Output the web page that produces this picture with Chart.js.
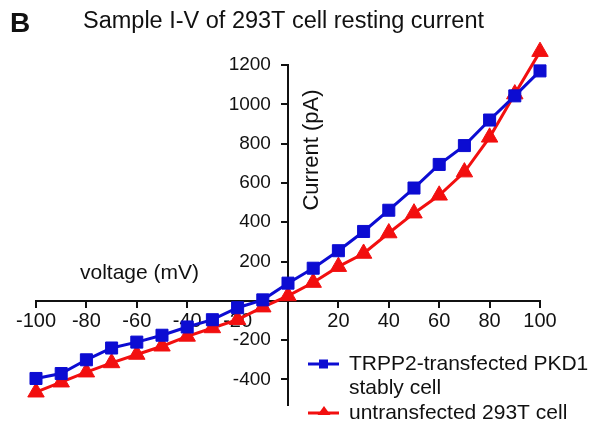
<!DOCTYPE html>
<html>
<head>
<meta charset="utf-8">
<title>Sample I-V of 293T cell resting current</title>
<script src="https://cdn.jsdelivr.net/npm/chart.js@4.4.1/dist/chart.umd.min.js"></script>
<style>
  html, body { margin: 0; padding: 0; background: #fff; }
  #wrap { width: 591px; height: 424px; position: relative; }
</style>
</head>
<body>
<div id="wrap"><canvas id="ivChart"></canvas></div>
<script>
// holding voltage steps (mV) and measured currents (pA)
const voltage = [-100, -90, -80, -70, -60, -50, -40, -30, -20, -10, 0, 10, 20, 30, 40, 50, 60, 70, 80, 90, 100];
const currentTRPP2 = [-395, -370, -300, -240, -210, -175, -133, -96, -35, 5, 90, 166, 255, 353, 461, 574, 694, 790, 920, 1043, 1170];
const current293T = [-465, -414, -363, -316, -273, -231, -181, -138, -96, -32, 25, 93, 174, 241, 345, 446, 537, 655, 832, 1052, 1268];

const xTicks = [-100, -80, -60, -40, -20, 0, 20, 40, 60, 80, 100];
const yTicks = [-400, -200, 0, 200, 400, 600, 800, 1000, 1200];
const seriesNames = [['TRPP2-transfected PKD1', 'stably cell'], ['untransfected 293T cell']];

const FONT = '"Liberation Sans", Arial, Helvetica, sans-serif';
const INK = '#111';
const BLUE = '#0c0cd2';
const RED = '#f20f0f';

function points(ys) {
    return voltage.map((v, i) => ({ x: v, y: ys[i] }));
}

function hideZero(value) {
    return value === 0 ? '' : value;
}

// centred y axis puts labels flush on the line, so pad them with an en space + thin spaces
function yLabel(value) {
    return value === 0 ? '' : value + '\u2002\u2009\u2009';
}

// title, axis names and legend sit around the crossed axes, so draw them by hand
const annotations = {
    id: 'annotations',
    afterDraw(chart) {
        const ctx = chart.ctx;
        ctx.save();
        ctx.fillStyle = INK;
        ctx.textBaseline = 'alphabetic';

        ctx.font = 'bold 28px ' + FONT;
        ctx.fillText('B', 10, 32);
        ctx.font = '23.5px ' + FONT;
        ctx.fillText('Sample I-V of 293T cell resting current', 83, 28);

        ctx.font = '21px ' + FONT;
        ctx.fillText('voltage (mV)', 80, 279);
        ctx.save();
        ctx.translate(318, 150);
        ctx.rotate(-Math.PI / 2);
        ctx.textAlign = 'center';
        ctx.font = '22px ' + FONT;
        ctx.fillText('Current (pA)', 0, 0);
        ctx.restore();

        // legend
        const rows = [
            { y: 364, color: BLUE, marker: 'rect', lines: seriesNames[0] },
            { y: 413, color: RED, marker: 'triangle', lines: seriesNames[1] }
        ];
        rows.forEach(row => {
            ctx.strokeStyle = row.color;
            ctx.fillStyle = row.color;
            ctx.lineWidth = 3;
            ctx.beginPath();
            ctx.moveTo(308, row.y);
            ctx.lineTo(339, row.y);
            ctx.stroke();
            if (row.marker === 'rect') {
                ctx.fillRect(319, row.y - 4.5, 9, 9);
            } else {
                ctx.beginPath();
                ctx.moveTo(324, row.y - 7);
                ctx.lineTo(330.5, row.y + 2);
                ctx.lineTo(317.5, row.y + 2);
                ctx.closePath();
                ctx.fill();
            }
            ctx.fillStyle = INK;
            ctx.font = '21px ' + FONT;
            row.lines.forEach((t, i) => ctx.fillText(t, 349, row.y + 6 + i * 24));
        });
        ctx.restore();
    }
};

const ctx = document.getElementById('ivChart').getContext('2d');
const chart = new Chart(ctx, {
    type: 'line',
    data: {
        datasets: [{
            label: seriesNames[0].join(' '),
            data: points(currentTRPP2),
            borderColor: BLUE,
            backgroundColor: BLUE,
            borderWidth: 3,
            pointStyle: 'rect',
            pointRadius: 8.5,
            pointHoverRadius: 8.5,
            pointBorderWidth: 1,
            clip: false
        }, {
            label: seriesNames[1][0],
            data: points(current293T),
            borderColor: RED,
            backgroundColor: RED,
            borderWidth: 3,
            pointStyle: 'triangle',
            pointRadius: 9.5,
            // larger hover radius widens the in-area margin so the 100 mV point above the top tick still draws
            pointHoverRadius: 16,
            pointBorderWidth: 1,
            clip: false
        }]
    },
    options: {
        responsive: true,
        maintainAspectRatio: false,
        animation: false,
        events: [],
        layout: { padding: { left: 36, right: 51, top: 65, bottom: 19 } },
        plugins: {
            legend: { display: false },
            tooltip: { enabled: false }
        },
        scales: {
            x: {
                type: 'linear',
                position: { y: 0 },
                min: -100,
                max: 100,
                afterBuildTicks: scale => { scale.ticks = xTicks.map(v => ({ value: v })); },
                grid: { drawOnChartArea: false, drawTicks: true, tickLength: 6, color: INK, lineWidth: 2 },
                border: { display: true, color: INK, width: 2 },
                ticks: {
                    color: INK,
                    padding: 3,
                    maxRotation: 0,
                    autoSkip: false,
                    font: { family: FONT, size: 20 },
                    callback: hideZero
                }
            },
            y: {
                type: 'linear',
                position: { x: 0 },
                min: -530,
                max: 1200,
                afterBuildTicks: scale => { scale.ticks = yTicks.map(v => ({ value: v })); },
                grid: { drawOnChartArea: false, drawTicks: true, tickLength: 6, color: INK, lineWidth: 2 },
                border: { display: true, color: INK, width: 2 },
                ticks: {
                    color: INK,
                    autoSkip: false,
                    font: { family: FONT, size: 19 },
                    callback: yLabel
                }
            }
        }
    },
    plugins: [annotations]
});
</script>
</body>
</html>
